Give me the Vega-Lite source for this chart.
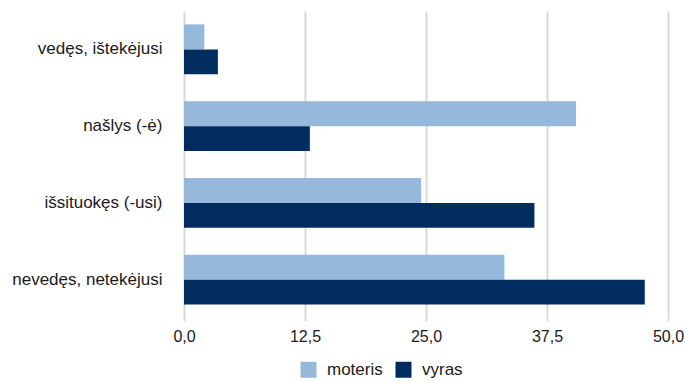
{
  "$schema": "https://vega.github.io/schema/vega-lite/v6.json",
  "autosize": {"type": "none"},
  "padding": {"left": 184, "top": 11, "right": 18, "bottom": 63},
  "width": 484,
  "height": 307,
  "config": {
    "font": "Liberation Sans",
    "view": {"stroke": null},
    "axis": {"labelFont": "Liberation Sans", "labelFontSize": 16, "labelColor": "#1a1a1a"},
    "legend": {"labelFont": "Liberation Sans", "labelFontSize": 17, "labelColor": "#1a1a1a"}
  },
  "data": {
    "values": [
      {"statusas": "vedęs, ištekėjusi", "lytis": "moteris", "reiksme": 2.1},
      {"statusas": "vedęs, ištekėjusi", "lytis": "vyras", "reiksme": 3.5},
      {"statusas": "našlys (-ė)", "lytis": "moteris", "reiksme": 40.5},
      {"statusas": "našlys (-ė)", "lytis": "vyras", "reiksme": 13.0},
      {"statusas": "išsituokęs (-usi)", "lytis": "moteris", "reiksme": 24.5},
      {"statusas": "išsituokęs (-usi)", "lytis": "vyras", "reiksme": 36.2},
      {"statusas": "nevedęs, netekėjusi", "lytis": "moteris", "reiksme": 33.1},
      {"statusas": "nevedęs, netekėjusi", "lytis": "vyras", "reiksme": 47.6}
    ]
  },
  "mark": {"type": "bar"},
  "encoding": {
    "y": {
      "field": "statusas",
      "type": "nominal",
      "sort": ["vedęs, ištekėjusi", "našlys (-ė)", "išsituokęs (-usi)", "nevedęs, netekėjusi"],
      "scale": {"paddingInner": 0.35, "paddingOuter": 0.175},
      "axis": {"title": null, "ticks": false, "domain": false, "labelPadding": 22, "labelLimit": 200, "labelFontSize": 17}
    },
    "yOffset": {
      "field": "lytis",
      "type": "nominal",
      "sort": ["moteris", "vyras"],
      "scale": {"paddingInner": 0, "paddingOuter": 0}
    },
    "x": {
      "field": "reiksme",
      "type": "quantitative",
      "scale": {"domain": [0, 50], "nice": false},
      "axis": {
        "title": null,
        "values": [0, 12.5, 25, 37.5, 50],
        "labelExpr": "replace(format(datum.value, '.1f'), '.', ',')",
        "labelFlush": false,
        "labelOverlap": false,
        "domain": false,
        "grid": true,
        "gridColor": "#d9d9d9",
        "gridWidth": 2,
        "tickColor": "#d9d9d9",
        "tickWidth": 2,
        "tickSize": 3,
        "labelPadding": 7
      }
    },
    "color": {
      "field": "lytis",
      "type": "nominal",
      "scale": {"domain": ["moteris", "vyras"], "range": ["#96B8DB", "#002C60"]},
      "legend": {
        "title": null,
        "orient": "none",
        "direction": "horizontal",
        "legendX": 116,
        "legendY": 350,
        "symbolType": "square",
        "symbolSize": 256,
        "symbolStrokeWidth": 0,
        "labelOffset": 10,
        "columnPadding": 12
      }
    }
  }
}
